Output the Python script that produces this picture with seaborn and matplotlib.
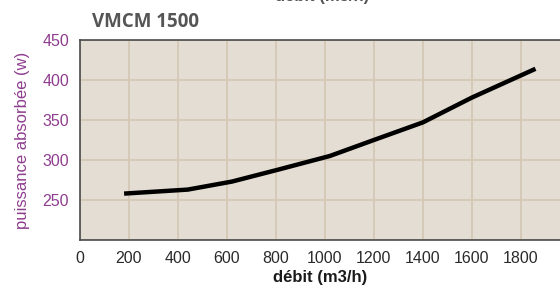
import numpy as np
import pandas as pd
import seaborn as sns
import matplotlib.pyplot as plt

# values
debit = [180, 440, 620, 810, 1020, 1200, 1400, 1600, 1860]
puissance = [258, 263, 273, 288, 305, 325, 347, 378, 414]
x_ticks = [0, 200, 400, 600, 800, 1000, 1200, 1400, 1600, 1800]
y_ticks = [250, 300, 350, 400, 450]

df = pd.DataFrame({'debit': debit, 'puissance': puissance})

sns.set_theme(style='white')
plt.rcParams['font.family'] = ['Liberation Sans', 'DejaVu Sans']

purple = '#8e3d8e'
fig = plt.figure(figsize=(5.6, 2.86), dpi=100)
ax = fig.add_axes([80 / 560, 1 - 240 / 286, 1 - 80 / 560, 200 / 286])
ax.set_facecolor('#e4ddd3')

sns.lineplot(data=df, x='debit', y='puissance', ax=ax, color='black',
             linewidth=3.2, solid_capstyle='butt')

ax.set_xlim(0, 1960)
ax.set_ylim(200, 450)
ax.set_xticks(x_ticks)
ax.set_yticks([200] + y_ticks)
ax.set_yticklabels([''] + [str(v) for v in y_ticks])
ax.grid(True, color='#d4c7b6', linewidth=1.3)
ax.set_axisbelow(True)
ax.tick_params(axis='both', length=0, labelsize=11.5)
ax.tick_params(axis='y', colors=purple, pad=8)
ax.tick_params(axis='x', colors='#2a2a2a', pad=8)

for side in ['left', 'bottom', 'top']:
    ax.spines[side].set_color('#4a4a4a')
    ax.spines[side].set_linewidth(1.2)
ax.spines['right'].set_visible(False)

ax.set_xlabel('débit (m3/h)', fontsize=12, fontweight='bold', color='#1a1a1a', labelpad=3)
ax.set_ylabel('puissance absorbée (w)', fontsize=12, color=purple, labelpad=9)

fig.text(92 / 560, 1 - 27 / 286, 'VMCM 1500', fontsize=13.5, fontweight='bold',
         color='#555555', family=['Open Sans', 'DejaVu Sans'], va='baseline')
# cropped copy of the axis title at the very top of the image
fig.text(322 / 560, 1 - 1 / 286, 'débit (m3/h)', fontsize=12, fontweight='bold',
         color='#555555', ha='center', va='baseline')

fig.savefig('out.png', dpi=100, facecolor='white')
